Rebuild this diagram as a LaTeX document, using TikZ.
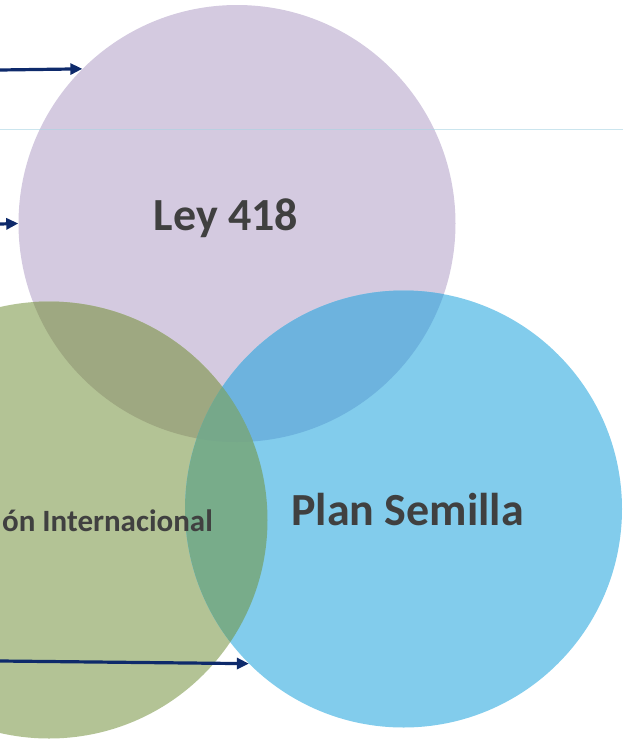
\documentclass[tikz,border=0pt]{standalone}
\usepackage{fontspec}
\setmainfont{Carlito}
\usetikzlibrary{arrows.meta}

\definecolor{leyc}{HTML}{D4CAE0}
\definecolor{coopc}{HTML}{B3C395}
\definecolor{planc}{HTML}{82CCEC}
\definecolor{leycoopc}{HTML}{9EA881}
\definecolor{leyplanc}{HTML}{6DB3DE}
\definecolor{coopplanc}{HTML}{78AC8A}
\definecolor{todosc}{HTML}{76A88A}
\definecolor{flechac}{HTML}{0E2A6B}
\definecolor{textoc}{HTML}{404040}
\definecolor{lineac}{HTML}{A9D3E3}

\begin{document}
\begin{tikzpicture}[
        x=1pt, y=-1pt,
        circ/.style={circle, minimum size=437pt, inner sep=0pt, draw=none}, % los tres circulos
        flecha/.style={draw=flechac, line width=3.2pt, -{Triangle[length=12pt,width=11pt]}},
        titulo/.style={font=\bfseries\fontsize{46}{50}\selectfont, text=textoc, anchor=base, inner sep=0pt},
        subtitulo/.style={font=\bfseries\fontsize{31}{34}\selectfont, text=textoc, anchor=base east, inner sep=0pt},
    ]
    \useasboundingbox (0,0) rectangle (623,739);

    % circulos
    \node[circ, fill=leyc] (ley) at (237,223.5) {};
    \node[circ, fill=coopc] (coop) at (49,520) {};
    \node[circ, fill=planc] (plan) at (403.5,509) {};

    % intersecciones
    \begin{scope}
        \clip (ley.center) circle (218.5);
        \fill[leycoopc] (coop.center) circle (218.5);
        \fill[leyplanc] (plan.center) circle (218.5);
    \end{scope}
    \begin{scope}
        \clip (coop.center) circle (218.5);
        \fill[coopplanc] (plan.center) circle (218.5);
    \end{scope}
    \begin{scope}
        \clip (ley.center) circle (218.5);
        \clip (coop.center) circle (218.5);
        \fill[todosc] (plan.center) circle (218.5);
    \end{scope}

    % linea fina
    \coordinate (li) at (0,129);
    \coordinate (ld) at (623,129);
    \draw[lineac, opacity=0.6, line width=1pt] (li) -- (ld);

    % textos
    \node[titulo] (tley) at (226,230) {Ley 418};
    \node[titulo] (tplan) at (407.5,525) {Plan Semilla};
    \node[subtitulo] (tcoop) at (213,531) {ón Internacional};

    % flechas
    \coordinate (f1) at (0,70);
    \coordinate (f2) at (0,224);
    \coordinate (f3) at (0,661);
    \draw[flecha] (f1) -- (ley.135);
    \draw[flecha] (f2) -- (ley.180);
    \draw[flecha] (f3) -- (plan.225);
\end{tikzpicture}
\end{document}
